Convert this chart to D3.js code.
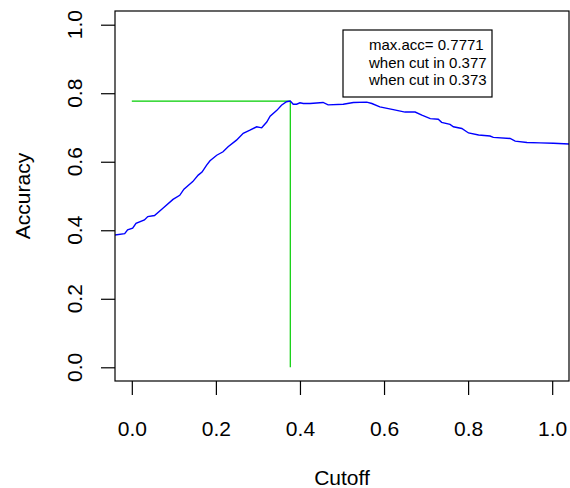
<!DOCTYPE html>
<html lang="en">
  <head>
    <title>Accuracy vs cutoff</title>
    <script src="https://cdn.jsdelivr.net/npm/d3@7"></script>
    <style>
      body { margin: 0; background: #fff; }
      text { font-family: 'Liberation Sans', Arial, Helvetica, sans-serif; }
    </style>
  </head>
  <body>
    <div id='chart'></div>
    <script type='text/javascript'>
      // curve
      let cutoff = [-0.040, -0.017, -0.010, 0.002, 0.010, 0.030, 0.038, 0.054, 0.074, 0.098,
                    0.114, 0.124, 0.145, 0.158, 0.167, 0.178, 0.186, 0.202, 0.217, 0.229,
                    0.249, 0.265, 0.281, 0.297, 0.309, 0.321, 0.329, 0.345, 0.356, 0.368,
                    0.377, 0.384, 0.392, 0.400, 0.408, 0.424, 0.455, 0.467, 0.503, 0.527,
                    0.559, 0.571, 0.590, 0.622, 0.650, 0.674, 0.690, 0.710, 0.729, 0.737,
                    0.757, 0.765, 0.785, 0.801, 0.825, 0.852, 0.860, 0.900, 0.912, 0.940,
                    0.971, 1.003, 1.040];
      let accuracy = [0.386, 0.390, 0.401, 0.406, 0.420, 0.430, 0.440, 0.443, 0.464, 0.490,
                      0.502, 0.520, 0.542, 0.561, 0.570, 0.590, 0.603, 0.619, 0.629, 0.644,
                      0.663, 0.683, 0.692, 0.702, 0.699, 0.716, 0.733, 0.750, 0.765, 0.775,
                      0.777, 0.768, 0.768, 0.772, 0.770, 0.770, 0.773, 0.766, 0.768, 0.773,
                      0.774, 0.770, 0.760, 0.752, 0.745, 0.745, 0.736, 0.726, 0.724, 0.715,
                      0.709, 0.702, 0.697, 0.684, 0.678, 0.675, 0.671, 0.668, 0.660, 0.656,
                      0.655, 0.654, 0.652];
      let ticks = [0, 0.2, 0.4, 0.6, 0.8, 1.0];
      let maxAcc = 0.7771;
      let bestCut = 0.377;
      let legendLines = ['max.acc= 0.7771', 'when cut in 0.377', 'when cut in 0.373'];

      let width = 570, height = 488;
      let plot = {left: 115, right: 569, top: 11, bottom: 381};

      let svg = d3.select('#chart').append('svg')
        .attr('width', width)
        .attr('height', height)

      let x = d3.scaleLinear().domain([-0.04, 1.04]).range([plot.left, plot.right]);
      let y = d3.scaleLinear().domain([-0.04, 1.04]).range([plot.bottom, plot.top]);

      svg.append('clipPath').attr('id', 'clip')
        .append('rect')
        .attr('x', plot.left).attr('y', plot.top)
        .attr('width', plot.right - plot.left)
        .attr('height', plot.bottom - plot.top)

      // green guide lines
      svg.append('line')
        .attr('x1', x(0)).attr('x2', x(bestCut))
        .attr('y1', y(maxAcc)).attr('y2', y(maxAcc))
        .attr('stroke', '#00cd00').attr('stroke-width', 1.2)
      svg.append('line')
        .attr('x1', x(bestCut)).attr('x2', x(bestCut))
        .attr('y1', y(0)).attr('y2', y(maxAcc))
        .attr('stroke', '#00cd00').attr('stroke-width', 1.2)

      let line = d3.line()
        .x((d, i) => x(cutoff[i]))
        .y((d) => y(d))

      svg.append('path')
        .datum(accuracy)
        .attr('clip-path', 'url(#clip)')
        .attr('d', line)
        .attr('fill', 'none')
        .attr('stroke', '#0000ff')
        .attr('stroke-width', 1.4)

      // box
      svg.append('rect')
        .attr('x', plot.left).attr('y', plot.top)
        .attr('width', plot.right - plot.left)
        .attr('height', plot.bottom - plot.top)
        .attr('fill', 'none').attr('stroke', '#000').attr('stroke-width', 1.2)

      // x axis
      let xAxis = svg.append('g')
        .attr('transform', 'translate(0,' + plot.bottom + ')')
        .call(d3.axisBottom(x).tickValues(ticks).tickSize(14).tickPadding(26)
          .tickFormat(d3.format('.1f')))
      xAxis.select('.domain').remove()
      xAxis.selectAll('line').attr('stroke', '#000').attr('stroke-width', 1.2)
      xAxis.selectAll('text').attr('font-size', 21).attr('fill', '#000')

      // y axis, labels parallel to the axis
      let yAxis = svg.append('g')
        .attr('transform', 'translate(' + plot.left + ',0)')
        .call(d3.axisLeft(y).tickValues(ticks).tickSize(14).tickFormat(''))
      yAxis.select('.domain').remove()
      yAxis.selectAll('line').attr('stroke', '#000').attr('stroke-width', 1.2)

      svg.append('g').selectAll('text')
        .data(ticks)
        .enter()
        .append('text')
        .attr('transform', (d) => 'translate(82,' + y(d) + ') rotate(-90)')
        .attr('text-anchor', 'middle')
        .attr('font-size', 21)
        .text((d) => d3.format('.1f')(d))

      svg.append('text')
        .attr('x', (plot.left + plot.right) / 2)
        .attr('y', 485)
        .attr('text-anchor', 'middle')
        .attr('font-size', 21)
        .text('Cutoff')

      svg.append('text')
        .attr('transform', 'translate(30,' + (plot.top + plot.bottom) / 2 + ') rotate(-90)')
        .attr('text-anchor', 'middle')
        .attr('font-size', 21)
        .text('Accuracy')

      // legend
      let legend = svg.append('g')
      legend.append('rect')
        .attr('x', 343).attr('y', 30)
        .attr('width', 149).attr('height', 67)
        .attr('fill', '#fff').attr('stroke', '#000').attr('stroke-width', 1.2)
      legend.selectAll('text')
        .data(legendLines)
        .enter()
        .append('text')
        .attr('x', 369)
        .attr('y', (d, i) => 50 + i * 17.5)
        .attr('font-size', 15)
        .text((d) => d)
    </script>
  </body>
</html>
